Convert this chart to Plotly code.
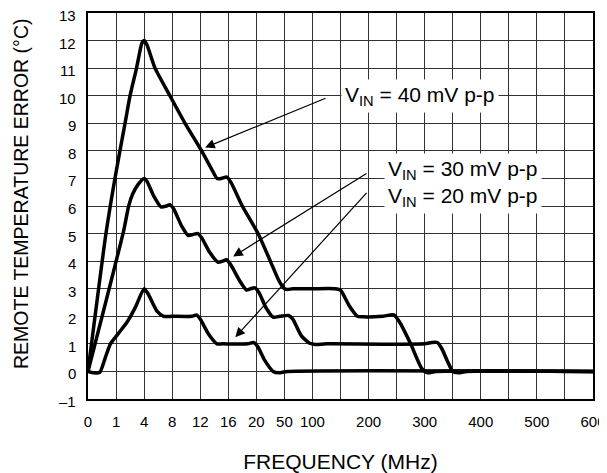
import numpy as np
import plotly.graph_objects as go

# Axis: frequency grid (non-linear, equally spaced grid columns)
GRID_FREQ = [0, 1, 4, 8, 12, 16, 20, 50, 100, 150, 200, 250, 300, 350, 400, 450, 500, 550, 600]
LABEL_FREQ = [0, 1, 4, 8, 12, 16, 20, 50, 100, 200, 300, 400, 500, 600]
LABEL_TEXT = ["0", "1", "4", "8", "12", "16", "20", "50", "100", "200", "300", "400", "500", "600"]
Y_TICKS = [-1, 0, 1, 2, 3, 4, 5, 6, 7, 8, 9, 10, 11, 12, 13]
Y_TICK_TEXT = ["–1", "0", "1", "2", "3", "4", "5", "6", "7", "8", "9", "10", "11", "12", "13"]

# Series (frequency in MHz, error in °C)
f40 = [0, 0.64, 0.96, 1.96, 2.5, 3.19, 3.76, 4, 4.4, 5.56, 7.68, 9.84, 12.2, 13.6, 14.4, 15.0, 15.8,
       16.4, 18, 21.8, 35, 44, 50, 55, 65, 100, 140, 150, 165, 180, 190, 225, 245, 255, 275, 295,
       305, 320, 600]
v40 = [0, 5, 7, 9, 10, 11, 11.9, 12, 11.85, 11, 10, 9, 8, 7.35, 7.0, 7.0, 7.05,
       6.85, 6.0, 5.0, 4.0, 3.3, 3.0, 2.97, 3.0, 3.0, 3.0, 2.95, 2.4, 2.0, 1.98, 2.0, 2.05, 1.8, 1.0, 0.1,
       -0.05, 0, 0]

f30 = [0, 1.81, 2.35, 2.8, 3.4, 4, 4.4, 5.4, 6.4, 7.2, 7.68, 8.2, 9.4, 10.28, 11.0, 11.68, 12.2,
       13.4, 14.56, 15.2, 15.76, 16.4, 17.6, 18.6, 19.2, 19.8, 23, 30.5, 38, 45.5, 57.5, 65, 80,
       95, 105, 125, 300, 312.5, 322.5, 330, 340, 350, 360, 375, 600]
v30 = [0, 5.1, 6.0, 6.45, 6.8, 7.0, 6.9, 6.35, 5.97, 6.0, 6.05, 5.9, 5.25, 4.93, 4.97, 5.0, 4.85,
       4.3, 3.96, 4.0, 4.05, 3.85, 3.3, 2.95, 3.0, 3.03, 2.85, 2.3, 1.97, 2.0, 2.03, 1.9, 1.3,
       1.02, 0.98, 1.0, 1.0, 1.05, 1.05, 0.85, 0.4, 0.0, -0.05, 0, 0]

f20 = [0, 0.2, 0.42, 0.6, 0.8, 1.3, 2.2, 3.1, 4, 4.6, 5.8, 6.8, 8, 10.8, 11.48, 12, 13.2, 14.4,
       15.2, 18.8, 19.6, 21.5, 29, 38, 44, 55, 600]
v20 = [0, -0.05, -0.03, 0.45, 1.0, 1.4, 1.8, 2.35, 3.0, 2.8, 2.2, 2.0, 2.0, 2.0, 2.05, 1.9, 1.35, 1.0,
       1.0, 1.0, 1.05, 0.9, 0.4, 0.0, -0.05, 0, 0]

LABELS = ["V<sub>IN</sub> = 40 mV p-p", "V<sub>IN</sub> = 30 mV p-p", "V<sub>IN</sub> = 20 mV p-p"]
X_TITLE = "FREQUENCY (MHz)"
Y_TITLE = "REMOTE TEMPERATURE ERROR (°C)"

POS = list(range(len(GRID_FREQ)))


def fx(freqs):
    return np.interp(freqs, GRID_FREQ, POS)


FONT = "Liberation Sans, Arial, Helvetica, sans-serif"

fig = go.Figure()
for f, v in [(f40, v40), (f30, v30), (f20, v20)]:
    fig.add_trace(go.Scatter(
        x=fx(f), y=v, mode="lines",
        line=dict(color="black", width=3.5, shape="spline", smoothing=0.6),
        hoverinfo="skip", showlegend=False,
    ))

# Label boxes
label_pos = [(fx(291.5), 9.98), (fx(367.5), 7.3), (fx(367.5), 6.32)]
for (lx, ly), txt in zip(label_pos, LABELS):
    fig.add_annotation(x=lx, y=ly, xref="x", yref="y", text=txt, showarrow=False,
                       font=dict(family=FONT, size=21, color="black"),
                       bgcolor="white", borderpad=3, xanchor="center", yanchor="middle")

# Arrows (tail -> head)
arrows = [((fx(126), 9.93), (fx(12.7), 8.12)),
          ((fx(199), 7.21), (fx(16.7), 4.17)),
          ((fx(199), 6.53), (fx(17.0), 1.24))]
for (tx, ty), (hx, hy) in arrows:
    fig.add_annotation(x=hx, y=hy, ax=tx, ay=ty, xref="x", yref="y", axref="x", ayref="y",
                       text="", showarrow=True, arrowhead=2, arrowsize=1.6, arrowwidth=1.2,
                       arrowcolor="black", standoff=0, startstandoff=0)

# Y tick labels (sit a little below their grid lines, as in the reference)
for yv, yt in zip(Y_TICKS, Y_TICK_TEXT):
    fig.add_annotation(x=0, xref="paper", y=yv, yref="y", text=yt, showarrow=False,
                       xanchor="right", yanchor="middle", xshift=-11, yshift=-2.5,
                       borderpad=0, font=dict(family=FONT, size=15, color="black"))

# Y-axis title (placed slightly above the plot centre, as in the reference)
fig.add_annotation(x=0, y=0.531, xref="paper", yref="paper", text=Y_TITLE, textangle=-90,
                   showarrow=False, xanchor="center", yanchor="middle", xshift=-67,
                   borderpad=0, font=dict(family=FONT, size=19.5, color="black"))

fig.update_xaxes(
    range=[0, 18], tickmode="array", tickvals=fx(LABEL_FREQ), ticktext=LABEL_TEXT,
    showgrid=True, gridcolor="#333333", gridwidth=1,
    minor=dict(tickmode="array", tickvals=POS, showgrid=True, gridcolor="#333333", gridwidth=1),
    showline=True, linecolor="black", linewidth=2, mirror=True,
    ticks="", ticklabelstandoff=8, zeroline=False, automargin=False, ticklabeloverflow="allow",
    tickfont=dict(family=FONT, size=15, color="black"),
    title=dict(text=X_TITLE, font=dict(family=FONT, size=21, color="black"), standoff=25),
)
fig.update_yaxes(
    range=[-1, 13], tickmode="array", tickvals=Y_TICKS, showticklabels=False,
    showgrid=True, gridcolor="#333333", gridwidth=1,
    showline=True, linecolor="black", linewidth=2, mirror=True,
    ticks="", zeroline=False, automargin=False,
)
# The page adds an 8 px body margin; size the figure so the plot area lands where the reference has it.
fig.update_layout(
    width=599, height=465,
    margin=dict(l=80, r=14, t=5, b=74),
    plot_bgcolor="white", paper_bgcolor="white",
    font=dict(family=FONT, color="black"),
)
fig.write_html("out.html")
